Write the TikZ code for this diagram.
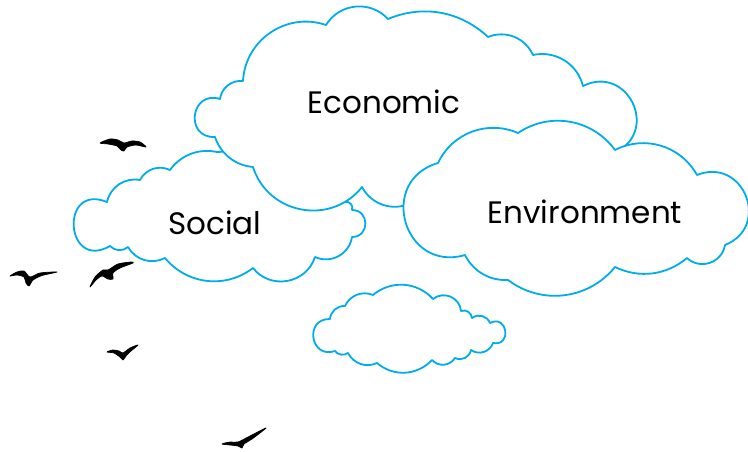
\documentclass[tikz,border=0pt]{standalone}
\usepackage{fontspec}
\setmainfont{Poppins}
\begin{document}
\definecolor{cloudblue}{RGB}{0,172,236}
\tikzset{
  cloud/.style={draw=cloudblue, line width=1.8pt, fill=white, line join=round},
  bird/.style={fill=black, draw=black, line width=0.7pt, line join=round},
  label/.style={font=\fontsize{31}{37}\selectfont, text=black, inner sep=0pt},
  b15/.style={bend left=33, looseness=0.95},
  b20/.style={bend left=44, looseness=1.0},
  b25/.style={bend left=53, looseness=1.06},
  b30/.style={bend left=62, looseness=1.15},
  b40/.style={bend left=77, looseness=1.4},
  b50/.style={bend left=90, looseness=1.7},
  b60/.style={bend left=100, looseness=2.06},
  b70/.style={bend left=109, looseness=2.5},
  b80/.style={bend left=116, looseness=3.0},
}
\begin{tikzpicture}[x=1pt, y=-1pt]
  \useasboundingbox (0,0) rectangle (748,452);

  % Social cloud (back)
  \draw[cloud] (107,202) to[b20] (140,180) to[b20] (170,170) to[b15] (217,152)
    -- (262,150) -- (345,202) to[b30] (352,210) to[b50] (352,237)
    to[b25] (315,257) to[b30] (253,268) to[b20] (165,258) to[b20] (128,247)
    to[b20] (110,246) to[b80] (107,202) -- cycle;

  % Economic cloud
  \draw[cloud] (220,99) to[b20] (243,81) to[b25] (326,25) to[b25] (388,19)
    to[b15] (488,37) to[b20] (533,55) to[b20] (583,86) to[b50] (616,152)
    -- (440,205) -- (411,203) to[b20] (362,187) to[b30] (253,167)
    to[b15] (215,137) to[b60] (220,99) -- cycle;

  % Environment cloud (front)
  \draw[cloud] (438,163) to[b20] (518,133) to[b20] (615,150) to[b20] (697,175)
    to[b50] (725,245) to[b30] (687,258) to[b15] (615,267) to[b20] (508,280)
    to[b15] (465,255) to[b50] (438,163) -- cycle;

  % small empty cloud
  \draw[cloud] (330,319) to[b20] (345,306) to[b20] (373,295) to[b20] (433,299)
    to[b30] (461,311) to[b25] (472,318) to[b25] (490,323) to[b70] (493,343)
    to[b25] (471,350) to[b25] (455,358) to[b25] (432,360) to[b20] (377,363)
    to[b20] (348,353) to[b20] (335,351) to[b60] (330,319) -- cycle;

  \node[label] (econ) at (384,102) {Economic};
  \node[label] (soc) at (215,223) {Social};
  \node[label] (env) at (585,212) {Environment};

  % birds
  \filldraw[bird] plot[smooth cycle, tension=0.45] coordinates {
    (100,143) (110,139) (118,140) (124,143) (132,141) (140,142) (146,147)
    (136,145) (127,147) (124,151) (121,150) (117,146) (108,144)};
  \filldraw[bird] plot[smooth cycle, tension=0.45] coordinates {
    (10,276) (17,272) (24,271) (30,277) (40,273) (57,272) (42,275.5)
    (33,280) (29,286) (26,283) (24,277) (17,275)};
  \filldraw[bird] plot[smooth cycle, tension=0.45] coordinates {
    (90,287) (95,277) (103,270) (108,270) (118,264) (131,262) (133,263)
    (120,268) (113,273) (113,279) (108,279) (102,276) (96,280)};
  \filldraw[bird] plot[smooth cycle, tension=0.45] coordinates {
    (107,352) (113,350) (119,351) (123,353) (130,348) (138,345) (131,351)
    (126,356) (123,360) (120,357) (114,353)};
  \filldraw[bird] plot[smooth cycle, tension=0.45] coordinates {
    (222,444) (230,442) (238,442) (250,436) (266,428) (252,439) (244,444)
    (242,448) (238,446) (230,445)};
\end{tikzpicture}
\end{document}
